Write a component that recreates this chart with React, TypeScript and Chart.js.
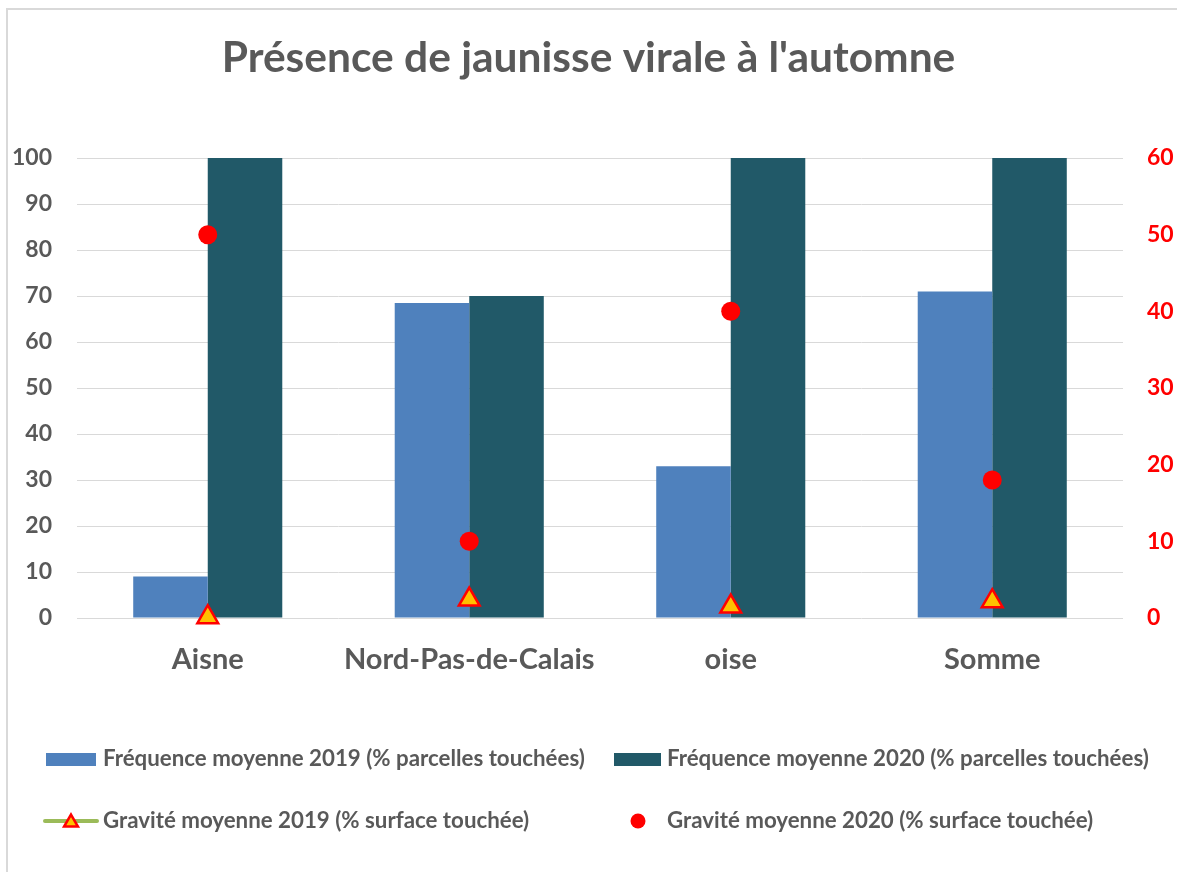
import { useEffect, useRef } from "react";
import { Chart, registerables } from "chart.js";

Chart.register(...registerables);

const titleText = "Présence de jaunisse virale à l'automne";
const categories = ["Aisne", "Nord-Pas-de-Calais", "oise", "Somme"];
const freq2019 = [9, 68.5, 33, 71];
const freq2020 = [100, 70, 100, 100];
const grav2019 = [0.1, 2.4, 1.5, 2.2];
const grav2020 = [50, 10, 40, 18];
const seriesLabels = [
  "Fréquence moyenne 2019 (% parcelles touchées)",
  "Fréquence moyenne 2020 (% parcelles touchées)",
  "Gravité moyenne 2019 (% surface touchée)",
  "Gravité moyenne 2020 (% surface touchée)",
];
const leftAxis = { min: 0, max: 100, step: 10 };
const rightAxis = { min: 0, max: 60, step: 10 };

const FONT = "Lato, 'Open Sans', sans-serif";
const GRAY = "#595959";
const BLUE = "#4F81BD";
const TEAL = "#215968";
const GREEN = "#9BBB59";
const RED = "#FF0000";
const ORANGE = "#FFC000";

const framePlugin = {
  id: "frame",
  beforeDraw(chart: any) {
    const { ctx, width, height } = chart;
    ctx.save();
    ctx.fillStyle = "#d9d9d9";
    ctx.fillRect(6, 8, width - 6, 2);
    ctx.fillRect(6, 8, 2, height - 8);
    ctx.restore();
  },
};

function drawTriangle(ctx: CanvasRenderingContext2D, x: number, y: number, r: number) {
  ctx.beginPath();
  for (let i = 0; i < 3; i++) {
    const a = (i * 2 * Math.PI) / 3;
    const px = x + Math.sin(a) * r;
    const py = y - Math.cos(a) * r;
    if (i === 0) ctx.moveTo(px, py);
    else ctx.lineTo(px, py);
  }
  ctx.closePath();
  ctx.fillStyle = ORANGE;
  ctx.fill();
  ctx.lineWidth = 2.5;
  ctx.strokeStyle = RED;
  ctx.lineJoin = "miter";
  ctx.stroke();
}

const legendPlugin = {
  id: "customLegend",
  afterDraw(chart: any) {
    const { ctx } = chart;
    const ds = chart.data.datasets;
    const items = [
      { kind: "box", x: 46, w: 50, tx: 103, y: 759, color: ds[0].backgroundColor, label: ds[0].label },
      { kind: "box", x: 614, w: 47, tx: 667, y: 759, color: ds[1].backgroundColor, label: ds[1].label },
      { kind: "lineTri", x: 43, w: 56, tx: 103, y: 821, color: GREEN, label: ds[2].label },
      { kind: "dot", x: 628, w: 20, tx: 667, y: 821, color: RED, label: ds[3].label },
    ];
    ctx.save();
    for (const it of items) {
      if (it.kind === "box") {
        ctx.fillStyle = it.color;
        ctx.fillRect(it.x, it.y - 6, it.w, 13);
      } else if (it.kind === "lineTri") {
        ctx.strokeStyle = it.color;
        ctx.lineWidth = 4;
        ctx.lineCap = "round";
        ctx.beginPath();
        ctx.moveTo(it.x + 2, it.y);
        ctx.lineTo(it.x + it.w - 2, it.y);
        ctx.stroke();
        ctx.lineCap = "butt";
        drawTriangle(ctx, it.x + it.w / 2, it.y + 1.5, 8);
      } else {
        ctx.fillStyle = it.color;
        ctx.beginPath();
        ctx.arc(it.x + it.w / 2, it.y, 7.5, 0, Math.PI * 2);
        ctx.fill();
      }
      ctx.fillStyle = GRAY;
      ctx.font = `bold 22.3px ${FONT}`;
      ctx.textAlign = "left";
      ctx.textBaseline = "middle";
      ctx.fillText(it.label, it.tx, it.y);
    }
    ctx.restore();
  },
};

export default function App() {
  const ref = useRef<HTMLCanvasElement | null>(null);

  useEffect(() => {
    if (!ref.current) return;
    const chart = new Chart(ref.current, {
      type: "bar",
      data: {
        labels: categories,
        datasets: [
          {
            type: "bar",
            label: seriesLabels[0],
            data: freq2019,
            backgroundColor: BLUE,
            yAxisID: "y",
            order: 2,
            categoryPercentage: 0.57,
            barPercentage: 1,
          },
          {
            type: "bar",
            label: seriesLabels[1],
            data: freq2020,
            backgroundColor: TEAL,
            yAxisID: "y",
            order: 2,
            categoryPercentage: 0.57,
            barPercentage: 1,
          },
          {
            type: "line",
            label: seriesLabels[2],
            data: grav2019,
            yAxisID: "y1",
            showLine: false,
            clip: false,
            borderColor: GREEN,
            pointStyle: "triangle",
            pointRadius: 12,
            pointBackgroundColor: ORANGE,
            pointBorderColor: RED,
            pointBorderWidth: 2.5,
            order: 0,
          },
          {
            type: "line",
            label: seriesLabels[3],
            data: grav2020,
            yAxisID: "y1",
            showLine: false,
            clip: false,
            pointStyle: "circle",
            pointRadius: 9.5,
            pointBackgroundColor: RED,
            pointBorderColor: RED,
            pointBorderWidth: 0,
            order: 1,
          },
        ] as any,
      },
      options: {
        animation: false,
        responsive: true,
        maintainAspectRatio: false,
        layout: { padding: { left: 0, right: 0, top: 0, bottom: 174 } },
        plugins: {
          legend: { display: false },
          tooltip: { enabled: false },
          title: {
            display: true,
            text: titleText,
            color: GRAY,
            font: { family: FONT, size: 42.5, weight: "bold", lineHeight: 1.2 },
            padding: { top: 33, bottom: 74 },
          },
        },
        scales: {
          x: {
            grid: { display: false, drawTicks: false },
            border: { display: false },
            ticks: {
              color: GRAY,
              font: { family: FONT, size: 29, weight: "bold" },
              padding: 24,
              maxRotation: 0,
              autoSkip: false,
            },
            afterFit(scale: any) {
              scale.height = 80;
            },
          },
          y: {
            position: "left",
            min: leftAxis.min,
            max: leftAxis.max,
            grid: { color: "#d9d9d9", lineWidth: 1, drawTicks: false },
            border: { display: false },
            ticks: {
              stepSize: leftAxis.step,
              color: GRAY,
              font: { family: FONT, size: 23, weight: "bold" },
              padding: 25,
            },
            afterFit(scale: any) {
              scale.width = 77;
            },
          },
          y1: {
            position: "right",
            min: rightAxis.min,
            max: rightAxis.max,
            grid: { display: false, drawTicks: false },
            border: { display: false },
            ticks: {
              stepSize: rightAxis.step,
              color: RED,
              font: { family: FONT, size: 23, weight: "bold" },
              padding: 24,
            },
            afterFit(scale: any) {
              scale.width = 54;
            },
          },
        },
      } as any,
      plugins: [framePlugin, legendPlugin],
    });
    return () => chart.destroy();
  }, []);

  return (
    <div style={{ position: "fixed", left: 0, top: 0, width: 1177, height: 872, background: "#fff" }}>
      <canvas ref={ref} />
    </div>
  );
}
